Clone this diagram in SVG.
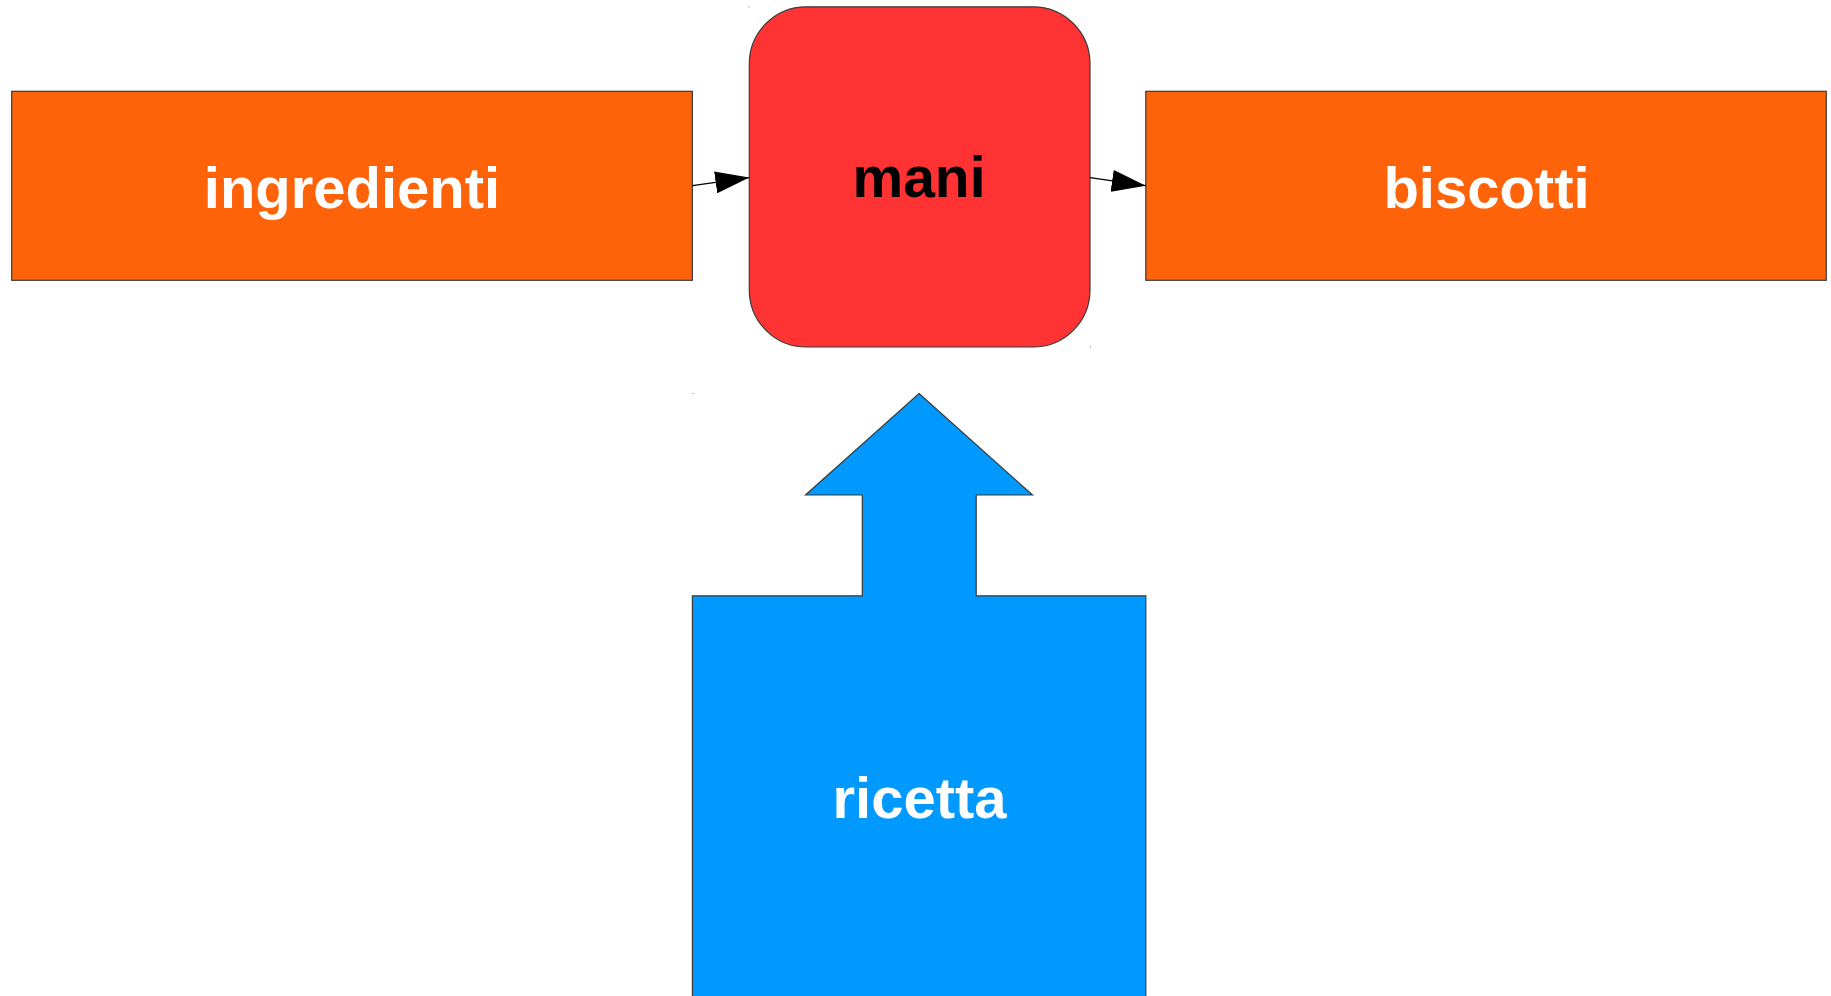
<svg xmlns="http://www.w3.org/2000/svg" width="1831" height="996" viewBox="0 0 1831 996">
  <style>
    .box { stroke: #3a3a3a; stroke-width: 1.2; }
    .orange { fill: #ff6309; }
    .red { fill: #ff3333; }
    .blue { fill: #0099ff; }
    .label { font-family: "Liberation Sans", Arial, sans-serif; font-weight: bold; font-size: 58px; text-anchor: middle; }
    .white { fill: #ffffff; }
    .dark { fill: #000000; }
    .conn { stroke: #000000; stroke-width: 1.2; fill: none; }
    .speck { fill: #7a7a7a; }
  </style>
  <defs>
    <marker id="arrowhead" markerUnits="userSpaceOnUse" markerWidth="34" markerHeight="22" refX="34" refY="11" orient="auto">
      <path d="M0,0 L34,11 L0,22 z" fill="#000000"/>
    </marker>
  </defs>

  <rect width="1831" height="996" fill="#ffffff"/>

  <!-- bounding-box corner specks -->
  <rect class="speck" x="748.5" y="6.5" width="1" height="1"/>
  <rect class="speck" x="1090" y="346.5" width="1" height="1"/>
  <rect class="speck" x="692.5" y="393" width="1" height="1"/>

  <g id="ricetta">
    <polygon class="box blue" points="919,393.5 1032.5,495 976.2,495 976.2,595.8 1145.8,595.8 1145.8,1000 692.4,1000 692.4,595.8 862.3,595.8 862.3,495 805.5,495"/>
    <text class="label white" x="919.5" y="817.5">ricetta</text>
  </g>

  <g id="ingredienti">
    <rect class="box orange" x="11.7" y="91.3" width="680.7" height="189"/>
    <text class="label white" x="352" y="207.5">ingredienti</text>
  </g>

  <g id="mani">
    <rect class="box red" x="749.3" y="6.8" width="340.7" height="340.2" rx="57" ry="57"/>
    <text class="label dark" x="919" y="196.5" style="font-size:57px">mani</text>
  </g>

  <g id="biscotti">
    <rect class="box orange" x="1145.8" y="91.3" width="680.5" height="189"/>
    <text class="label white" x="1486.5" y="207.5">biscotti</text>
  </g>

  <g id="connectors">
    <line class="conn" x1="692.4" y1="185.7" x2="749.3" y2="177.6" marker-end="url(#arrowhead)"/>
    <line class="conn" x1="1090" y1="177.6" x2="1145.8" y2="185.7" marker-end="url(#arrowhead)"/>
  </g>
</svg>
